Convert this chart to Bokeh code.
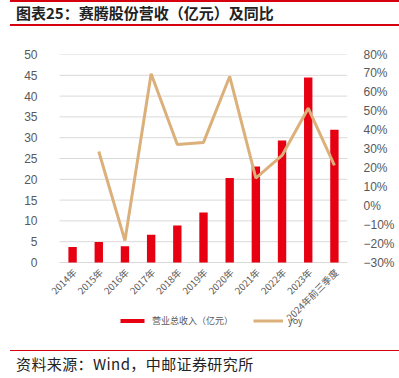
from bokeh.plotting import figure
from bokeh.models import (ColumnDataSource, Range1d, LinearAxis, FixedTicker,
                          CustomJSTickFormatter, Legend, LegendItem, Div)
from bokeh.core.properties import value
from bokeh.layouts import column
from bokeh.embed import file_html
from bokeh.resources import INLINE
import math

categories = ["2014年", "2015年", "2016年", "2017年", "2018年", "2019年",
              "2020年", "2021年", "2022年", "2023年", "2024年前三季度"]
revenue = [3.7, 4.9, 3.9, 6.7, 8.9, 12.0, 20.3, 23.1, 29.3, 44.5, 31.9]
yoy = [float("nan"), 28.7, -18.4, 69.8, 32.4, 33.5, 68.4, 14.6, 26.6, 51.6, 21.3]
left_ticks = [0, 5, 10, 15, 20, 25, 30, 35, 40, 45, 50]
right_ticks = [-30, -20, -10, 0, 10, 20, 30, 40, 50, 60, 70, 80]

RED = "#e60012"
TAN = "#dcb07a"
GRAY = "#595959"
FONT = "Noto Sans CJK SC"

n = len(categories)
pos = list(range(n))
src = ColumnDataSource(dict(x=pos, cat=categories, rev=revenue, yoy=yoy))

# frame spans page x 46..347, y 54..340 (figure spans page y 26..350)
# category area = page x 59..347; value 0 sits at page y 262
LEFT_MAX = 50.0
RIGHT_MIN, RIGHT_MAX = -30.0, 80.0
px_left = 208.0 / LEFT_MAX
px_right = 208.0 / (RIGHT_MAX - RIGHT_MIN)
below_px = 78.0
cat_px = 288.0 / n
extra_left_px = 13.0

p = figure(x_range=Range1d(-0.5 - extra_left_px / cat_px, n - 0.5),
           y_range=Range1d(-below_px / px_left, LEFT_MAX),
           width=399, height=324, output_backend="svg", toolbar_location=None,
           min_border_left=46, min_border_right=52, min_border_top=28, min_border_bottom=10)
p.outline_line_color = None
p.background_fill_color = None
p.border_fill_color = None

p.extra_y_ranges = {"yoy": Range1d(RIGHT_MIN - below_px / px_right, RIGHT_MAX)}

# grid lines over the category area only
p.segment(x0=-0.5, x1=n - 0.5, y0=left_ticks, y1=left_ticks,
          line_color="#d9d9d9", line_width=1)

bars = p.vbar(x="x", top="rev", width=0.32, source=src, color=RED, line_color=None)
line = p.line(x="x", y="yoy", source=src, y_range_name="yoy", line_color=TAN, line_width=3)

# category labels along the zero baseline
p.text(x="x", y=0, text="cat", source=src, angle=math.pi / 4,
       text_align="right", text_baseline="middle", x_offset=2, y_offset=8,
       text_font=value(FONT), text_font_size="9.5px", text_color=GRAY)

# left axis
ya = p.yaxis[0]
ya.ticker = FixedTicker(ticks=left_ticks)
ya.axis_line_color = None
ya.major_tick_line_color = None
ya.minor_tick_line_color = None
ya.major_label_standoff = 3
ya.major_label_text_font = "Liberation Sans"
ya.major_label_text_font_size = "12px"
ya.major_label_text_color = GRAY

# right axis
ra = LinearAxis(y_range_name="yoy", ticker=FixedTicker(ticks=right_ticks))
ra.formatter = CustomJSTickFormatter(code="return (tick < 0 ? '\u2212' + Math.abs(tick) : tick) + '%';")
ra.axis_line_color = None
ra.major_tick_line_color = None
ra.minor_tick_line_color = None
ra.major_label_standoff = 10
ra.major_label_text_font = "Liberation Sans"
ra.major_label_text_font_size = "12px"
ra.major_label_text_color = GRAY
p.add_layout(ra, "right")

p.xaxis.visible = False
p.xgrid.grid_line_color = None
p.ygrid.grid_line_color = None

legend = Legend(items=[LegendItem(label="营业总收入（亿元）", renderers=[bars]),
                       LegendItem(label="yoy", renderers=[line])],
                location=(71, 13), orientation="horizontal",
                glyph_width=30, glyph_height=5, label_standoff=5, spacing=20,
                padding=0, margin=0, border_line_color=None, background_fill_alpha=0,
                label_text_font=FONT, label_text_font_size="9px", label_text_color=GRAY,
                label_height=12)
p.add_layout(legend, "center")

title = Div(text='<div style="margin:0 0 0 10px;width:389px;height:26px;box-sizing:border-box;'
                 'border-top:2px solid #d7000f;border-bottom:2px solid #d7000f;'
                 'font-family:\'Noto Sans CJK SC\';font-weight:bold;font-size:15px;'
                 'line-height:21px;color:#222;white-space:nowrap">'
                 '<span style="margin-left:6px">图表25：赛腾股份营收（亿元）及同比</span></div>',
            width=399, height=26, margin=(0, 0, 0, 0))
source = Div(text='<div style="margin:0 0 0 10px;width:389px;height:28px;box-sizing:border-box;'
                  'border-top:1.5px solid #d7000f;font-family:\'Noto Sans CJK SC\';font-size:15px;'
                  'line-height:26px;color:#222;white-space:nowrap;letter-spacing:0.4px">'
                  '<span style="margin-left:6px">资料来源：Wind，中邮证券研究所</span></div>',
             width=399, height=28, margin=(0, 0, 0, 0))

layout = column(title, p, source, spacing=0, margin=(0, 0, 0, 0))
open("out.html", "w").write(file_html(layout, INLINE))
